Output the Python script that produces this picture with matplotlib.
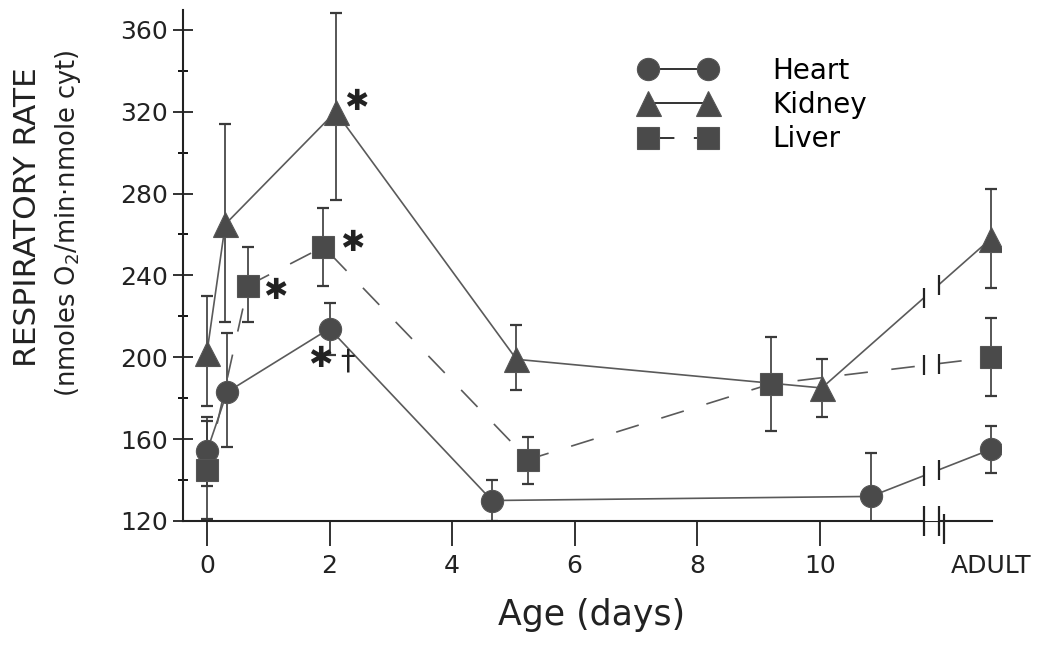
import numpy as np
import matplotlib
matplotlib.use("Agg")
import matplotlib.pyplot as plt

plt.rcParams['font.family'] = ['DejaVu Sans']
plt.rcParams['mathtext.fontset'] = 'dejavusans'
plt.rcParams['lines.scale_dashes'] = False

# ---------------- data ----------------
adult_x = 12.79
break_left, break_right = 11.70, 11.94

heart_x = [0.0, 0.33, 2.0, 4.65, 10.83]
heart_y = [154, 183, 214, 130, 132]
heart_lo = [17, 27, 13, 10, 20]
heart_hi = [17, 29, 12.5, 10, 21]
heart_adult, heart_adult_err = 155, 11.5

kidney_x = [0.0, 0.3, 2.1, 5.05, 10.03]
kidney_y = [202, 265, 320, 199, 185]
kidney_lo = [26, 48, 43, 15, 14]
kidney_hi = [28, 49, 48, 17, 14]
kidney_adult, kidney_adult_err = 258, 24

liver_x = [0.0, 0.67, 1.9, 5.24, 9.2]
liver_y = [145, 235, 254, 150, 187]
liver_lo = [24, 18, 19, 12, 23]
liver_hi = [24, 19, 19, 11, 23]
liver_adult, liver_adult_err = 200, 19

xticks = [0, 2, 4, 6, 8, 10]
xtick_labels = ['0', '2', '4', '6', '8', '10']
yticks = [120, 160, 200, 240, 280, 320, 360]

# ---------------- figure ----------------
fig = plt.figure(figsize=(10.42, 6.54), dpi=100)
ax = fig.add_axes([0.1756, 0.2034, 0.9605 - 0.1756, 0.9847 - 0.2034])
ax.set_xlim(-0.39, 12.95)
ax.set_ylim(120, 369.7)

mcol = '#4a4a4a'
lcol = '#5a5a5a'
ecol = '#3a3a3a'

series = [
    ('Heart', heart_x, heart_y, heart_lo, heart_hi, heart_adult, heart_adult_err, 'o', 16, '-'),
    ('Kidney', kidney_x, kidney_y, kidney_lo, kidney_hi, kidney_adult, kidney_adult_err, '^', 18, '-'),
    ('Liver', liver_x, liver_y, liver_lo, liver_hi, liver_adult, liver_adult_err, 's', 16, (0, (17, 17))),
]

handles = []
for name, xs, ys, lo, hi, ad, ade, mk, ms, ls in series:
    allx = list(xs) + [adult_x]
    ally = list(ys) + [ad]
    allo = list(lo) + [ade]
    alhi = list(hi) + [ade]
    ax.errorbar(allx, ally, yerr=[allo, alhi], fmt='none', ecolor=ecol,
                elinewidth=1.2, capsize=4, capthick=1.6, zorder=2)
    ax.plot(allx, ally, linestyle=ls, color=lcol, lw=1.2, zorder=2.2)
    ax.plot(allx, ally, linestyle='none', marker=mk, ms=ms, color=mcol,
            mec='#555555', mew=0.8, zorder=3)
    leg_ls = (0, (19, 14)) if ls != '-' else '-'
    h, = ax.plot([], [], linestyle=leg_ls, color='#333333', lw=1.4, marker=mk, ms=ms,
                 mfc=mcol, mec='#555555', mew=0.8, label=name)
    handles.append(h)
    # break marks on series lines
    yl = np.interp(break_left, [xs[-1], adult_x], [ys[-1], ad])
    yr = np.interp(break_right, [xs[-1], adult_x], [ys[-1], ad])
    ax.plot([break_left], [yl], marker='|', ms=15, mew=1.6, color='#222222', zorder=6)
    ax.plot([break_right], [yr], marker='|', ms=15, mew=1.6, color='#222222', zorder=6)

# white gap for the axis break
ax.axvspan(break_left, break_right, color='white', zorder=5, lw=0)

# axis break marks
ax.plot([break_left], [120], marker='|', ms=22, mew=1.6, color='#222222', zorder=6, clip_on=False)
ax.plot([break_right], [120], marker='|', ms=22, mew=1.6, color='#222222', zorder=6, clip_on=False)
ax.plot([break_right + 0.08], [116], marker='|', ms=22, mew=1.6, color='#222222', zorder=6, clip_on=False)

# spines
for s in ['top', 'right']:
    ax.spines[s].set_visible(False)
ax.spines['left'].set_linewidth(1.5)
ax.spines['bottom'].set_linewidth(1.5)
ax.spines['left'].set_color('#222222')
ax.spines['bottom'].set_color('#222222')
ax.spines['bottom'].set_bounds(-0.39, adult_x + 0.02)

# ticks
ax.set_xticks(xticks + [adult_x])
ax.set_xticklabels(xtick_labels + ['ADULT'], fontsize=18)
ax.xaxis.get_major_ticks()[-1].tick1line.set_visible(False)
ax.tick_params(axis='x', direction='out', length=18, width=1.3, pad=6, colors='#222222')
ax.set_yticks(yticks)
ax.set_yticklabels([str(v) for v in yticks], fontsize=18)
ax.set_yticks(np.arange(140, 361, 40), minor=True)
ax.tick_params(axis='y', which='major', direction='inout', length=14, width=1.3, pad=4, colors='#222222')
ax.tick_params(axis='y', which='minor', direction='inout', length=7, width=1.3)

# labels
fig.text(28 / 1042, 1 - 217 / 654, 'RESPIRATORY RATE', rotation=90, ha='center', va='center',
         fontsize=22.5, color='#222222')
fig.text(68 / 1042, 1 - 223 / 654, '(nmoles O$_2$/min·nmole cyt)', rotation=90, ha='center',
         va='center', fontsize=18.5, color='#222222')
ax.set_xlabel('Age (days)', fontsize=25, color='#222222', labelpad=14)

# significance marks
def mark(txt, x, y, dx, dy, fs=26):
    ax.annotate(txt, xy=(x, y), xytext=(dx, dy), textcoords='offset points',
                ha='center', va='center', fontsize=fs, color='#222222', zorder=7)

mark('✱', kidney_x[2], kidney_y[2], 15, 7, fs=21)
mark('✱', liver_x[2], liver_y[2], 21, 3, fs=21)
mark('✱', liver_x[1], liver_y[1], 20, -4, fs=21)
mark('✱', heart_x[2], heart_y[2], -7, -22, fs=21)
mark('†', heart_x[2], heart_y[2], 13, -24, fs=21)

# legend
ax.legend(handles=handles, loc='upper left', bbox_to_anchor=(0.542, 0.935), numpoints=2,
          frameon=False, fontsize=20, handlelength=2.75, handletextpad=2.0,
          labelspacing=0.22, borderpad=0)

fig.savefig('out.png', dpi=100)
